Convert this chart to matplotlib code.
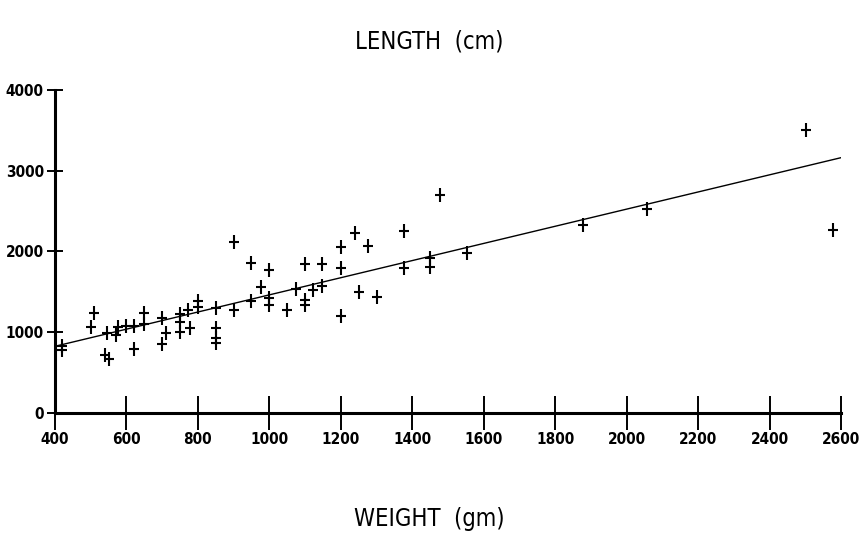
import matplotlib
matplotlib.use("Agg")
import matplotlib.pyplot as plt
from matplotlib.path import Path

plt.rcParams["font.family"] = ["DejaVu Sans"]
plt.rcParams["font.stretch"] = "condensed"

# ---- data ----
weight = [420, 420, 500, 510, 540, 545, 550, 572, 577, 600,
          620, 620, 650, 650, 700, 700, 710, 750, 750, 750,
          773, 778, 800, 800, 850, 850, 850, 850, 900, 900,
          950, 950, 977, 1000, 1000, 1000, 1050, 1075, 1100, 1100,
          1100, 1123, 1148, 1148, 1200, 1200, 1200, 1240, 1251, 1275,
          1300, 1377, 1377, 1451, 1451, 1478, 1552, 1879, 2056, 2502,
          2578]
length = [830, 780, 1070, 1240, 720, 990, 670, 966, 1069, 1075,
          1080, 790, 1240, 1100, 1180, 850, 990, 1230, 1120, 1000,
          1276, 1049, 1380, 1310, 1300, 1050, 930, 860, 2120, 1276,
          1860, 1380, 1565, 1770, 1420, 1340, 1276, 1540, 1840, 1400,
          1340, 1523, 1840, 1573, 2050, 1800, 1200, 2233, 1503, 2068,
          1441, 2254, 1792, 1916, 1812, 2700, 1978, 2328, 2522, 3505,
          2266]

fit_slope = 1.062
fit_intercept = 400
fit_range = [410, 2600]

x_ticks = list(range(400, 2601, 200))
y_ticks = [0, 1000, 2000, 3000, 4000]

# plotter style cross, a bit taller than wide
cross = Path([(-0.75, 0), (0.75, 0), (0, -1), (0, 1)],
             [Path.MOVETO, Path.LINETO, Path.MOVETO, Path.LINETO])

# ---- figure ----
fig = plt.figure(figsize=(8.59, 5.52), dpi=100)
ax = fig.add_axes([0.064, 0.252, 0.915, 0.585])

ax.plot(weight, length, linestyle="none", marker=cross, color="black",
        markersize=10, markeredgewidth=1.5)
fx = fit_range
fy = [fit_intercept + fit_slope * v for v in fx]
ax.plot(fx, fy, color="black", linewidth=1.0)

ax.set_xlim(400, 2600)
ax.set_ylim(0, 4000)
ax.set_xticks(x_ticks)
ax.set_yticks(y_ticks)
for s in ["top", "right"]:
    ax.spines[s].set_visible(False)
for s in ["left", "bottom"]:
    ax.spines[s].set_linewidth(2.2)
ax.tick_params(axis="x", direction="inout", length=24, width=1.4, pad=2,
               labelsize=11)
ax.tick_params(axis="y", direction="inout", length=12, width=1.4, pad=2,
               labelsize=11)
for lab in ax.get_xticklabels() + ax.get_yticklabels():
    lab.set_fontweight("bold")
for ln in ax.get_xticklines() + ax.get_yticklines():
    ln.set_clip_on(False)

fig.text(0.5, 0.925, "LENGTH  (cm)", ha="center", va="center", fontsize=17)
fig.text(0.5, 0.06, "WEIGHT  (gm)", ha="center", va="center", fontsize=17)

fig.savefig("out.png", dpi=100)
